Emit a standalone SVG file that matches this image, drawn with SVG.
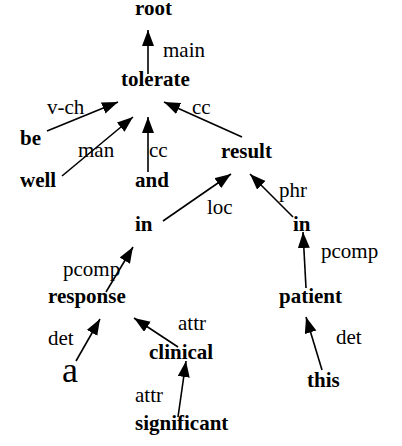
<svg xmlns="http://www.w3.org/2000/svg" width="402" height="446" viewBox="0 0 402 446">
<defs>
<style>
.n{font-family:"Liberation Serif","Times New Roman",serif;font-weight:bold;font-size:21px;fill:#000}
.l{font-family:"Liberation Serif","Times New Roman",serif;font-size:21px;fill:#000}
.e line{stroke:#000;stroke-width:1.6;marker-end:url(#ah)}
</style>
<marker id="ah" markerUnits="userSpaceOnUse" markerWidth="17" markerHeight="13" refX="16" refY="6" orient="auto">
<path d="M0,0 L16,6 L0,12 z" fill="#000"/>
</marker>
</defs>
<rect width="402" height="446" fill="#fff"/>
<g class="e" id="edges">
<line x1="148" y1="74" x2="148" y2="30"/>
<line x1="47" y1="131" x2="118" y2="102"/>
<line x1="62" y1="176" x2="133" y2="117"/>
<line x1="148" y1="172" x2="148" y2="117"/>
<line x1="242" y1="137" x2="164" y2="102"/>
<line x1="163" y1="221" x2="231" y2="174"/>
<line x1="293" y1="217" x2="250" y2="174"/>
<line x1="106" y1="292" x2="133" y2="247"/>
<line x1="306" y1="288" x2="303" y2="232"/>
<line x1="76" y1="361" x2="100" y2="319"/>
<line x1="178" y1="347" x2="134" y2="318"/>
<line x1="178" y1="417" x2="186" y2="361"/>
<line x1="322" y1="370" x2="306" y2="317"/>
</g>
<g id="labels">
<text class="l" x="163" y="57">main</text>
<text class="l" x="47" y="114">v-ch</text>
<text class="l" x="78" y="157">man</text>
<text class="l" x="149" y="157">cc</text>
<text class="l" x="192" y="114">cc</text>
<text class="l" x="207" y="214">loc</text>
<text class="l" x="279" y="197">phr</text>
<text class="l" x="63" y="276">pcomp</text>
<text class="l" x="321" y="258">pcomp</text>
<text class="l" x="48" y="345">det</text>
<text class="l" x="178" y="330">attr</text>
<text class="l" x="135" y="402">attr</text>
<text class="l" x="336" y="344">det</text>
</g>
<g id="n-root"><text class="n" x="135" y="15">root</text></g>
<g id="n-tolerate"><text class="n" x="121" y="86">tolerate</text></g>
<g id="n-be"><text class="n" x="20" y="145">be</text></g>
<g id="n-well"><text class="n" x="20" y="187">well</text></g>
<g id="n-and"><text class="n" x="135" y="187">and</text></g>
<g id="n-result"><text class="n" x="221" y="158">result</text></g>
<g id="n-in1"><text class="n" x="135" y="231">in</text></g>
<g id="n-in2"><text class="n" x="293" y="231">in</text></g>
<g id="n-response"><text class="n" x="48" y="303">response</text></g>
<g id="n-patient"><text class="n" x="279" y="303">patient</text></g>
<g id="n-a"><text class="l" x="62" y="382" style="font-size:36px">a</text></g>
<g id="n-clinical"><text class="n" x="149" y="359">clinical</text></g>
<g id="n-significant"><text class="n" x="135" y="430">significant</text></g>
<g id="n-this"><text class="n" x="307" y="387">this</text></g>
</svg>
